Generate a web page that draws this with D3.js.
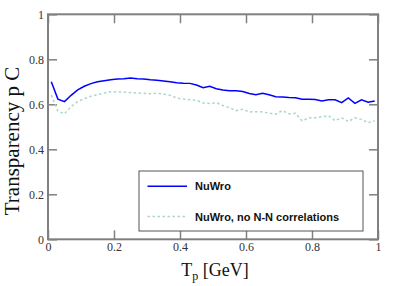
<!DOCTYPE html>
<html>
<head>
<meta charset="utf-8">
<script src="https://cdn.jsdelivr.net/npm/d3@7"></script>
<style>
  body { margin: 0; background: #fff; }
  svg { display: block; }
</style>
</head>
<body>
<svg width="399" height="286"></svg>
<script>
const width = 399;
const height = 286;

// kinetic energy of the proton (GeV)
const tp = [0.01, 0.03, 0.05, 0.07, 0.09, 0.11, 0.13, 0.15, 0.17, 0.19,
  0.21, 0.23, 0.25, 0.27, 0.29, 0.31, 0.33, 0.35, 0.37, 0.39,
  0.41, 0.43, 0.45, 0.47, 0.49, 0.51, 0.53, 0.55, 0.57, 0.59,
  0.61, 0.63, 0.65, 0.67, 0.69, 0.71, 0.73, 0.75, 0.77, 0.79,
  0.81, 0.83, 0.85, 0.87, 0.89, 0.91, 0.93, 0.95, 0.97, 0.99];

const nuwro = [0.700, 0.623, 0.612, 0.640, 0.664, 0.680, 0.692, 0.700, 0.705, 0.709,
  0.712, 0.714, 0.717, 0.714, 0.712, 0.709, 0.707, 0.704, 0.700, 0.696,
  0.694, 0.693, 0.686, 0.674, 0.680, 0.669, 0.664, 0.660, 0.660, 0.657,
  0.648, 0.643, 0.649, 0.642, 0.634, 0.632, 0.630, 0.629, 0.622, 0.622,
  0.621, 0.615, 0.620, 0.620, 0.607, 0.628, 0.604, 0.620, 0.609, 0.615];

const nuwroNoCorr = [0.641, 0.570, 0.558, 0.590, 0.612, 0.625, 0.636, 0.643, 0.650, 0.656,
  0.655, 0.654, 0.652, 0.650, 0.649, 0.647, 0.649, 0.645, 0.640, 0.628,
  0.623, 0.620, 0.618, 0.606, 0.604, 0.607, 0.595, 0.585, 0.572, 0.578,
  0.566, 0.567, 0.566, 0.561, 0.556, 0.572, 0.558, 0.560, 0.526, 0.540,
  0.540, 0.545, 0.549, 0.527, 0.540, 0.523, 0.540, 0.533, 0.518, 0.527];

const xTicks = [0, 0.2, 0.4, 0.6, 0.8, 1];
const xTickLabels = ["0", "0.2", "0.4", "0.6", "0.8", "1"];
const yTicks = [0, 0.2, 0.4, 0.6, 0.8, 1];
const yTickLabels = ["0", "0.2", "0.4", "0.6", "0.8", "1"];

const seriesNames = ["NuWro", "NuWro, no N-N correlations"];

const margin = { left: 48, right: 21, top: 14.3, bottom: 46.7 };
const plotW = width - margin.left - margin.right;
const plotH = height - margin.top - margin.bottom;

const serif = "'Liberation Serif', 'Times New Roman', serif";

const svg = d3.select("svg");
const g = svg.append("g").attr("transform", `translate(${margin.left},${margin.top})`);

const x = d3.scaleLinear().domain([0, 1]).range([0, plotW]);
const y = d3.scaleLinear().domain([0, 1]).range([plotH, 0]);

const frameColor = "#808080";
const tickLen = 9;

// ticks on all four sides, pointing inward
const axisStyle = (sel) => {
  sel.attr("font-family", null);
  sel.select(".domain").remove();
  sel.selectAll(".tick line").attr("stroke", frameColor).attr("stroke-width", 1.5);
  sel.selectAll("text")
    .style("font-family", serif)
    .style("font-size", "12px")
    .attr("fill", "#333");
};

g.append("g")
  .attr("transform", `translate(0,${plotH})`)
  .call(d3.axisBottom(x).tickValues(xTicks).tickFormat((d, i) => xTickLabels[i])
    .tickSizeInner(-tickLen).tickSizeOuter(0).tickPadding(3))
  .call(axisStyle);

g.append("g")
  .call(d3.axisTop(x).tickValues(xTicks).tickFormat("")
    .tickSizeInner(-tickLen).tickSizeOuter(0))
  .call(axisStyle);

g.append("g")
  .call(d3.axisLeft(y).tickValues(yTicks).tickFormat((d, i) => yTickLabels[i])
    .tickSizeInner(-tickLen).tickSizeOuter(0).tickPadding(4))
  .call(axisStyle);

g.append("g")
  .attr("transform", `translate(${plotW},0)`)
  .call(d3.axisRight(y).tickValues(yTicks).tickFormat("")
    .tickSizeInner(-tickLen).tickSizeOuter(0))
  .call(axisStyle);

g.append("rect")
  .attr("width", plotW)
  .attr("height", plotH)
  .attr("fill", "none")
  .attr("stroke", frameColor)
  .attr("stroke-width", 2);

const line = (vals) => d3.line()
  .x((d, i) => x(tp[i]))
  .y(d => y(d))(vals);

g.append("path")
  .attr("d", line(nuwroNoCorr))
  .attr("fill", "none")
  .attr("stroke", "#a8d8c8")
  .attr("stroke-width", 1.5)
  .attr("stroke-dasharray", "2.5,2.5");

g.append("path")
  .attr("d", line(nuwro))
  .attr("fill", "none")
  .attr("stroke", "#0000ff")
  .attr("stroke-width", 1.5);

// legend
const legend = svg.append("g");
legend.append("rect")
  .attr("x", 139).attr("y", 171)
  .attr("width", 224).attr("height", 60)
  .attr("fill", "#fff")
  .attr("stroke", "#555")
  .attr("stroke-width", 1);

const legendItems = [
  { name: seriesNames[0], color: "#0000ff", dash: null, y: 186.3 },
  { name: seriesNames[1], color: "#a8d8c8", dash: "2.5,2.5", y: 216.5 }
];

legendItems.forEach(item => {
  legend.append("line")
    .attr("x1", 147.5).attr("x2", 187)
    .attr("y1", item.y).attr("y2", item.y)
    .attr("stroke", item.color)
    .attr("stroke-width", 1.5)
    .attr("stroke-dasharray", item.dash);
  legend.append("text")
    .attr("x", 195).attr("y", item.y + 4)
    .attr("font-family", "'Liberation Sans', Arial, sans-serif")
    .attr("font-weight", "bold")
    .attr("font-size", 11)
    .attr("fill", "#111")
    .text(item.name);
});

// axis titles
svg.append("text")
  .attr("transform", "translate(19,141) rotate(-90)")
  .attr("text-anchor", "middle")
  .attr("font-family", serif)
  .attr("font-size", 21)
  .attr("fill", "#111")
  .text("Transparency p C");

const xt = svg.append("text")
  .attr("x", 215).attr("y", 276)
  .attr("text-anchor", "middle")
  .attr("font-family", serif)
  .attr("font-size", 18)
  .attr("fill", "#111");
xt.append("tspan").text("T");
xt.append("tspan").attr("font-size", 12).attr("dy", 4).text("p");
xt.append("tspan").attr("dy", -4).text(" [GeV]");
</script>
</body>
</html>
